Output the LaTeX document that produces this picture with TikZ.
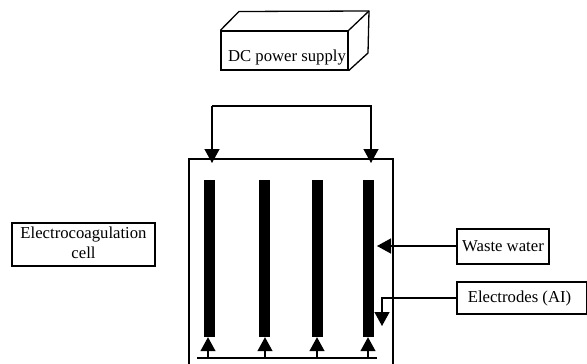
\documentclass[tikz,border=0pt]{standalone}
\usepackage{fontspec}
\setmainfont{Liberation Serif}
\usetikzlibrary{arrows.meta}
\tikzset{
  label box/.style={draw, line width=1.3pt, inner sep=0pt, align=center, font=\fontsize{16.7}{20}\selectfont},
  electrode/.style={fill=black, inner sep=0pt, minimum width=11pt, minimum height=157pt},
  wire/.style={line width=1.3pt, -{Triangle[width=15pt,length=14pt]}}
}
\begin{document}
\begin{tikzpicture}[x=1pt, y=-1pt]
        \useasboundingbox (0,0) rectangle (587,364);

        % power supply
        \node[label box, minimum width=127pt, minimum height=39pt] (supply) at (284.5,50.5) {\hspace*{5pt}\raisebox{-10.5pt}[0pt][0pt]{DC power supply}};
        \coordinate (backleft) at (239,11.5);
        \coordinate (backright) at (369,11);
        \coordinate (backlow) at (368,53);
        \draw[line width=1.3pt, line join=round] (supply.north west) -- (backleft) -- (backright) -- (backlow) -- (supply.south east);
        \draw[line width=1.3pt] (supply.north east) -- (backright);

        % cell
        \coordinate (cellbl) at (189,364);
        \coordinate (celltl) at (189,159);
        \coordinate (celltr) at (393,159);
        \coordinate (cellbr) at (393,364);
        \draw[line width=1.3pt] (cellbl) -- (celltl) -- (celltr) -- (cellbr);

        % electrodes
        \node[electrode] (el1) at (209.5,258.5) {};
        \node[electrode] (el2) at (264.5,258.5) {};
        \node[electrode] (el3) at (317,258.5) {};
        \node[electrode] (el4) at (368.5,258.5) {};

        % connection from supply side
        \coordinate (feedleft) at (212,163);
        \coordinate (feedright) at (371,163);
        \coordinate (feedtop) at (0,106);
        \draw[wire] (feedtop -| feedleft) -- (feedleft);
        \draw[wire] (feedtop -| feedleft) -- (feedtop -| feedright) -- (feedright);

        % bottom line
        \coordinate (busleft) at (197,358);
        \coordinate (busright) at (377,358);
        \draw[line width=1.3pt] (busleft) -- (busright);
        \foreach \i/\dx in {1/-1.5,2/0.5,3/0,4/-0.5}
          \draw[wire] ([xshift=\dx pt]el\i.south |- busleft) -- ([xshift=\dx pt]el\i.south);

        % labels
        \node[label box, line width=1.8pt, minimum width=143pt, minimum height=43pt] (celllabel) at (83.5,244.5) {\raisebox{1.5pt}{\begin{tabular}{@{}c@{}}Electrocoagulation\\cell\end{tabular}}};
        \node[label box, minimum width=92pt, minimum height=35pt] (waste) at (503,246.5) {Waste water};
        \node[label box, minimum width=130pt, minimum height=32pt] (metal) at (522,298) {\hspace*{-5pt}Electrodes (AI)};

        \coordinate (wastetip) at (377,246);
        \coordinate (metaltip) at (382,326);
        \draw[wire] (waste.west |- wastetip) -- (wastetip);
        \draw[wire] (metal.west) -- (metal.west -| metaltip) -- (metaltip);
      \end{tikzpicture}
\end{document}
